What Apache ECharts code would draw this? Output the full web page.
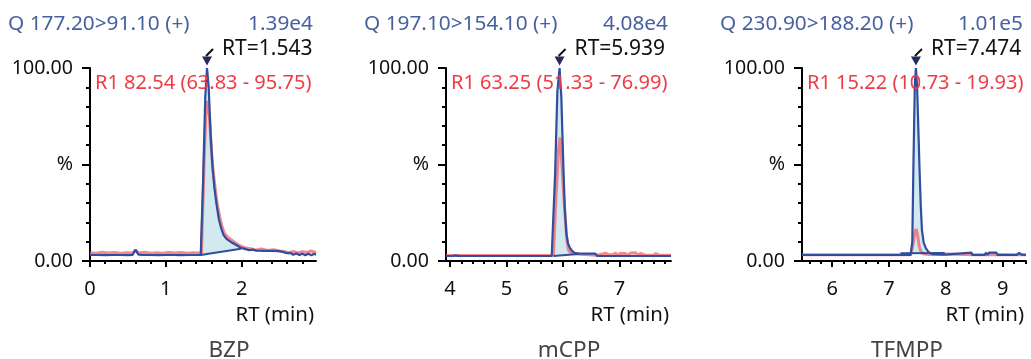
<!DOCTYPE html>
<html><head><meta charset="utf-8">
<script src="https://cdn.jsdelivr.net/npm/echarts@6/dist/echarts.min.js"></script>
<style>html,body{margin:0;padding:0;background:#fff}#c{width:1031px;height:359px}</style>
</head><body><div id="c"></div>
<script>
// ---------- data ----------
const compoundNames = ['BZP', 'mCPP', 'TFMPP'];
const transitions = ['Q 177.20>91.10 (+)', 'Q 197.10>154.10 (+)', 'Q 230.90>188.20 (+)'];
const intensities = ['1.39e4', '4.08e4', '1.01e5'];
const peakRT = [1.543, 5.939, 7.474];
const ratioLabels = ['R1 82.54 (63.83 - 95.75)', 'R1 63.25 (51.33 - 76.99)', 'R1 15.22 (10.73 - 19.93)'];
const xMin = [0, 3.93, 5.47];
const xMax = [2.98, 7.91, 9.41];
const xMajorTicks = [[0, 1, 2], [4, 5, 6, 7], [6, 7, 8, 9]];
const xMinorTicks = [
  [0.2, 0.4, 0.6, 0.8, 1.2, 1.4, 1.6, 1.8, 2.2, 2.4, 2.6, 2.8],
  [4.2, 4.4, 4.6, 4.8, 5.2, 5.4, 5.6, 5.8, 6.2, 6.4, 6.6, 6.8, 7.2, 7.4, 7.6, 7.8],
  [5.6, 5.8, 6.2, 6.4, 6.6, 6.8, 7.2, 7.4, 7.6, 7.8, 8.2, 8.4, 8.6, 8.8, 9.2, 9.4]
];
const yTickLabels = { 0: '0.00', 50: '%', 100: '100.00' };
const xAxisTitle = 'RT (min)';

const bzpQuant = [[0,3.1],[0.1,3.1],[0.2,3.0],[0.3,3.1],[0.4,3.1],[0.5,3.0],[0.56,3.2],[0.6,5.8],[0.64,3.3],[0.7,3.1],[0.8,3.1],[0.9,3.0],[1.0,3.1],[1.1,3.1],[1.2,3.0],[1.3,3.1],[1.4,3.1],[1.46,3.1],[1.49,40],[1.52,85],[1.543,100],[1.565,90],[1.59,66],[1.615,49],[1.64,38],[1.67,29],[1.70,21.5],[1.73,17],[1.76,13.5],[1.80,11.5],[1.88,9.3],[1.94,8.0],[1.99,6.8],[2.04,6.3],[2.1,5.6],[2.15,5.9],[2.2,5.4],[2.3,5.2],[2.4,5.2],[2.5,5.1],[2.52,4.3],[2.6,4.1],[2.65,4.1],[2.68,3.2],[2.72,3.9],[2.76,3.1],[2.8,3.8],[2.84,3.0],[2.88,3.7],[2.92,3.0],[2.95,3.7],[2.98,3.2]];
const bzpQual = [[0,4.3],[0.08,4.0],[0.16,4.5],[0.24,4.1],[0.32,4.4],[0.4,4.0],[0.48,4.3],[0.56,4.2],[0.6,5.6],[0.64,4.2],[0.72,4.5],[0.8,4.0],[0.88,4.3],[0.96,4.0],[1.04,4.4],[1.12,4.1],[1.2,4.4],[1.28,4.0],[1.36,4.3],[1.44,4.1],[1.47,4.3],[1.50,45],[1.525,75],[1.55,83],[1.575,75],[1.60,58],[1.625,46],[1.65,38],[1.68,29],[1.71,23],[1.74,18],[1.77,14.5],[1.81,12.5],[1.88,10.5],[1.94,8.8],[2.0,7.5],[2.06,6.7],[2.12,6.4],[2.18,5.6],[2.26,6.2],[2.34,5.5],[2.42,5.9],[2.5,5.2],[2.56,4.9],[2.62,4.3],[2.68,4.9],[2.74,4.2],[2.8,4.8],[2.86,4.4],[2.92,5.2],[2.96,4.5],[2.98,4.9]];
const bzpBaseline = [[1.46, 3.1], [1.99, 6.4]];

const mcppQuant = [[3.93,2.6],[4.05,2.6],[4.1,2.9],[4.15,2.6],[4.5,2.6],[5.0,2.6],[5.5,2.6],[5.8,2.6],[5.83,2.8],[5.86,45],[5.90,88],[5.939,100],[5.97,85],[6.0,55],[6.03,28],[6.06,14],[6.09,9],[6.12,7],[6.16,5.2],[6.2,4.3],[6.27,3.8],[6.4,3.8],[6.57,3.8],[6.6,2.7],[7.0,2.6],[7.5,2.6],[7.91,2.6]];
const mcppQual = [[3.93,2.8],[4.5,2.8],[5.0,2.8],[5.5,2.8],[5.83,2.9],[5.87,30],[5.92,58],[5.95,64],[5.98,50],[6.01,35],[6.04,22],[6.07,10],[6.1,5.5],[6.15,4.0],[6.3,3.5],[6.6,3.0],[6.62,4.0],[6.7,3.7],[6.72,3.0],[6.75,4.1],[6.8,3.3],[6.83,4.0],[6.88,3.2],[6.92,4.1],[6.98,3.1],[7.02,4.0],[7.1,3.9],[7.14,3.0],[7.2,4.2],[7.28,4.3],[7.33,3.0],[7.37,3.9],[7.45,3.1],[7.6,3.0],[7.64,3.9],[7.7,3.0],[7.91,3.0]];
const mcppBaseline = [[5.83, 2.6], [6.27, 3.6]];

const tfmppQuant = [[5.47,3.1],[6.0,3.1],[6.5,3.1],[7.0,3.1],[7.38,3.1],[7.41,10],[7.43,50],[7.455,92],[7.474,100],[7.495,90],[7.52,65],[7.54,45],[7.56,28],[7.58,16],[7.61,9.5],[7.65,6.5],[7.70,4.5],[7.76,3.6],[7.98,3.3],[8.0,4.3],[8.45,4.3],[8.47,3.1],[8.68,3.1],[8.71,4.3],[8.73,3.2],[8.76,4.3],[8.89,4.3],[8.91,3.1],[9.25,3.1],[9.29,4.2],[9.33,3.3],[9.41,3.1]];
const tfmppQual = [[5.47,3.2],[6.0,3.2],[6.5,3.2],[7.0,3.2],[7.38,3.2],[7.42,8],[7.45,14],[7.475,16.6],[7.50,14],[7.53,8],[7.56,5],[7.6,3.8],[7.7,3.4],[8.0,3.6],[8.5,3.3],[9.0,3.4],[9.41,3.3]];
const tfmppBaseline = [[7.2, 4.0], [7.98, 4.1]];

const quantTraces = [bzpQuant, mcppQuant, tfmppQuant];
const qualTraces = [bzpQual, mcppQual, tfmppQual];
const integrationBaselines = [bzpBaseline, mcppBaseline, tfmppBaseline];

// ---------- layout ----------
const gridLeft = [90, 446, 802];
const gridWidth = [226, 225, 224];
const gridTop = 68, gridHeight = 193;
const nameCenter = [229, 569, 907];
const FONT = '"Noto Sans", "Open Sans", sans-serif';
const BLUE = '#2f4e9e', RED = 'rgba(240,95,105,0.75)', TITLE_BLUE = '#4760a0', RED_TXT = '#ef3b45';

const chart = echarts.init(document.getElementById('c'), null, { renderer: 'canvas' });

const grids = [], xAxes = [], yAxes = [], series = [];
for (let i = 0; i < 3; i++) {
  grids.push({ left: gridLeft[i], top: gridTop, width: gridWidth[i], height: gridHeight, containLabel: false });
  xAxes.push({
    type: 'value', gridIndex: i, min: xMin[i], max: xMax[i], position: 'bottom',
    axisLine: { show: true, onZero: false, lineStyle: { color: '#000', width: 2 } },
    axisTick: { show: true, customValues: xMajorTicks[i], length: 6, lineStyle: { color: '#000', width: 2 } },
    axisLabel: { show: true, customValues: xMajorTicks[i], color: '#111', fontSize: 20, fontFamily: FONT, margin: 18,
      formatter: v => String(v) },
    splitLine: { show: false }
  });
  xAxes.push({
    type: 'value', gridIndex: i, min: xMin[i], max: xMax[i], position: 'bottom',
    axisLine: { show: false },
    axisTick: { show: true, customValues: xMinorTicks[i], length: 3, lineStyle: { color: '#000', width: 2 } },
    axisLabel: { show: false },
    splitLine: { show: false }
  });
  yAxes.push({
    type: 'value', gridIndex: i, min: 0, max: 100, interval: 50,
    axisLine: { show: true, lineStyle: { color: '#000', width: 2 } },
    axisTick: { show: true, length: 8, lineStyle: { color: '#000', width: 2 } },
    minorTick: { show: true, splitNumber: 5, length: 4, lineStyle: { color: '#000', width: 2 } },
    axisLabel: { color: '#111', fontSize: 19.6, fontFamily: FONT, margin: 17, formatter: v => yTickLabels[v] || '' },
    splitLine: { show: false }, minorSplitLine: { show: false }
  });

  const bl = integrationBaselines[i];
  const quant = quantTraces[i];
  const poly = [bl[0]].concat(quant.filter(p => p[0] > bl[0][0] && p[0] < bl[1][0]), [bl[1]]);
  series.push({
    type: 'custom', xAxisIndex: 2 * i, yAxisIndex: i, silent: true, z: 1,
    data: [[peakRT[i], 50]],
    renderItem: (params, api) => ({
      type: 'polygon',
      shape: { points: poly.map(p => api.coord(p)) },
      style: { fill: '#d3e9f0' }
    })
  });
  series.push({
    type: 'line', xAxisIndex: 2 * i, yAxisIndex: i, data: qualTraces[i], showSymbol: false, clip: false,
    lineStyle: { color: RED, width: 3 }, z: 2, silent: true
  });
  series.push({
    type: 'line', xAxisIndex: 2 * i, yAxisIndex: i, data: quant, showSymbol: false, clip: false,
    lineStyle: { color: BLUE, width: 2.2 }, z: 3, silent: true,
    markPoint: {
      symbol: 'triangle', symbolRotate: 180, symbolSize: [10, 9], symbolOffset: [0, -7],
      itemStyle: { color: '#232c5c' }, label: { show: false },
      data: [{ coord: [peakRT[i], 100] }]
    }
  });
  series.push({
    type: 'line', xAxisIndex: 2 * i, yAxisIndex: i, data: bl, showSymbol: false, clip: false,
    lineStyle: { color: BLUE, width: 2 }, z: 3, silent: true
  });
}

chart.setOption({
  animation: false,
  grid: grids, xAxis: xAxes, yAxis: yAxes, series: series
});

function txt(text, x, y, color, size, align) {
  return { type: 'text', z: 100, silent: true,
    style: { text: text, x: x, y: y, fill: color, font: size + 'px ' + FONT,
      textAlign: align, align: align, textVerticalAlign: 'middle', verticalAlign: 'middle' } };
}
const g = [];
for (let i = 0; i < 3; i++) {
  const gl = gridLeft[i], gr = gridLeft[i] + gridWidth[i];
  g.push(txt(transitions[i], gl - 82, 24, TITLE_BLUE, 20.8, 'left'));
  g.push(txt(intensities[i], gr - 3, 24, TITLE_BLUE, 20.8, 'right'));
  g.push(txt(ratioLabels[i], gl + 5, 83, RED_TXT, 20, 'left'));
  g.push(txt(xAxisTitle, gr - 2, 315, '#111', 20.4, 'right'));
  g.push(txt(compoundNames[i], nameCenter[i], 351, '#444', 22.5, 'center'));
  const p = chart.convertToPixel({ xAxisIndex: 2 * i, yAxisIndex: i }, [peakRT[i], 100]);
  g.push({ type: 'line', z: 100, silent: true,
    shape: { x1: p[0] - 1, y1: p[1] - 12, x2: p[0] + 6, y2: p[1] - 19 },
    style: { stroke: '#111', lineWidth: 2 } });
  g.push(txt('RT=' + peakRT[i].toFixed(3), p[0] + 15, p[1] - 19, '#111', 21, 'left'));
}
chart.setOption({ graphic: g });
</script></body></html>
